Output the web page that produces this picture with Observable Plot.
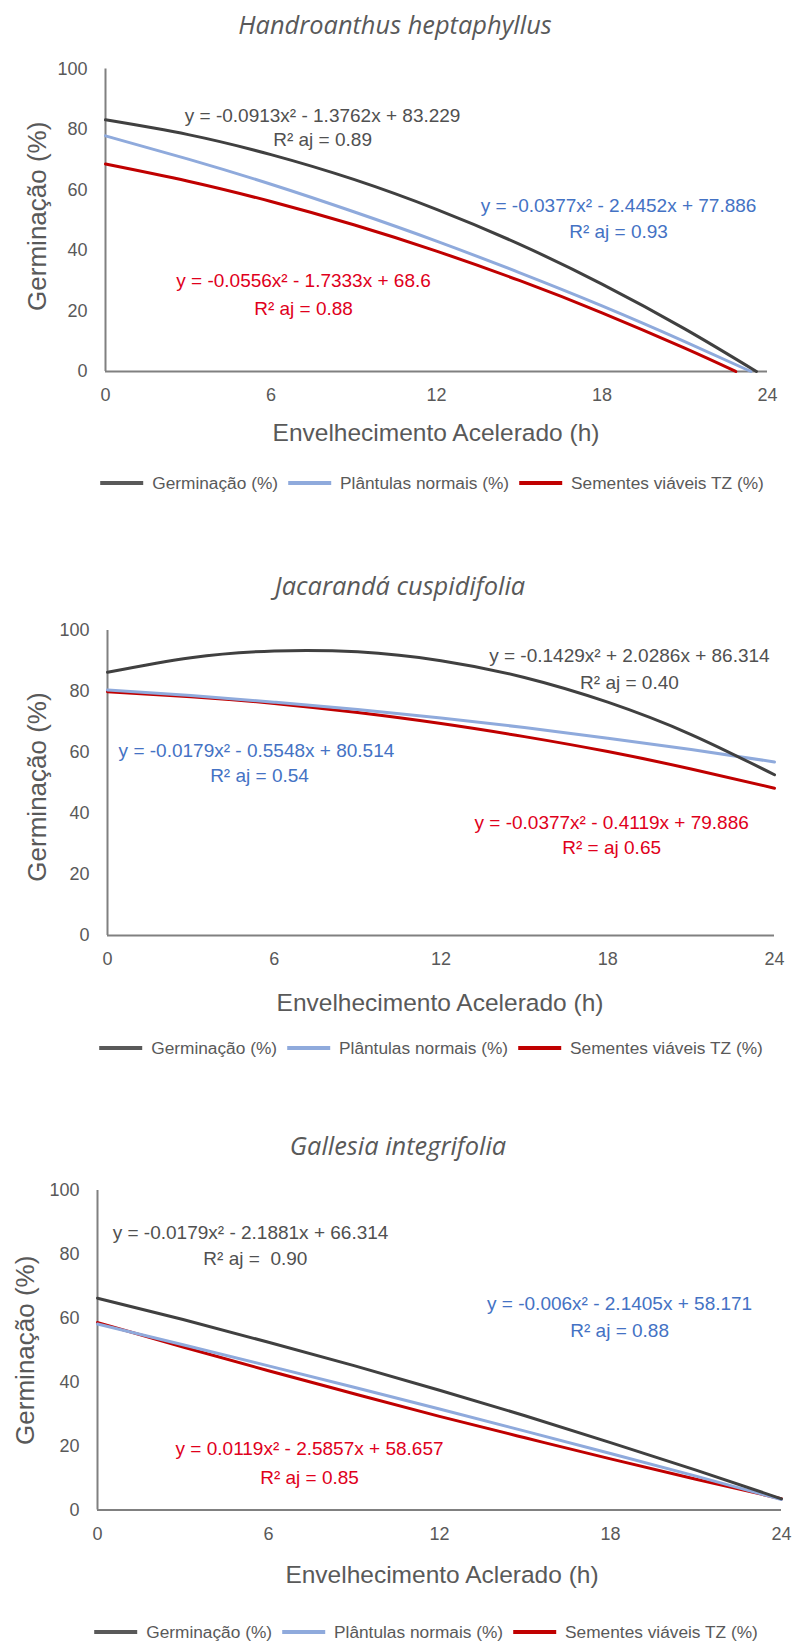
<!DOCTYPE html>
<html><head><meta charset="utf-8">
<script src="https://cdn.jsdelivr.net/npm/d3@7"></script>
<script src="https://cdn.jsdelivr.net/npm/@observablehq/plot@0.6"></script>
<style>
body{margin:0;background:#fff;}
#root{position:relative;width:793px;height:1643px;overflow:hidden;font-family:"Liberation Sans",Arial,sans-serif;color:#595959;}
.abs{position:absolute;white-space:nowrap;}
.title{font-family:"Open Sans",sans-serif;font-style:italic;font-size:25.4px;line-height:30px;transform:translateX(-50%);}
.xlab{font-size:24.5px;line-height:30px;transform:translateX(-50%);}
.legend{display:flex;align-items:center;font-size:17.3px;line-height:24px;transform:translateX(-50%);}
.sw{display:inline-block;width:43px;height:4px;margin-right:9px;}
.item{display:flex;align-items:center;margin-right:10px;}
.item:last-child{margin-right:0;}
svg{position:absolute;left:0;}
</style></head>
<body><div id="root"></div>
<script>
// ---- data ----
const seriesNames = ["Germinação (%)", "Plântulas normais (%)", "Sementes viáveis TZ (%)"];
const titles = ["Handroanthus heptaphyllus", "Jacarandá cuspidifolia", "Gallesia integrifolia"];
const xLabels = ["Envelhecimento Acelerado (h)", "Envelhecimento Acelerado (h)", "Envelhecimento Aclerado (h)"];
const yLabel = "Germinação (%)";
const xTicks = [0, 6, 12, 18, 24];
const yTicks = [0, 20, 40, 60, 80, 100];
const hours = [0, 3, 6, 9, 12, 15, 18, 21, 24];

// Panel 1 - Handroanthus heptaphyllus
const p1GermHours = [0, 3, 6, 9, 12, 15, 18, 21, 23.6];
const p1Germ = [83.2, 78.3, 71.7, 63.5, 53.6, 42.1, 28.9, 14.1, 0];
const p1PlantHours = [0, 3, 6, 9, 12, 15, 18, 21, 23.4];
const p1Plant = [77.9, 70.2, 61.9, 52.8, 43.1, 32.7, 21.7, 9.9, 0];
const p1SemHours = [0, 3, 6, 9, 12, 15, 18, 21, 22.85];
const p1Sem = [68.6, 62.9, 56.2, 48.5, 39.8, 30.1, 19.4, 7.7, 0];
const p1Eq = [
  ["y = -0.0913x² - 1.3762x + 83.229", "R² aj = 0.89"],
  ["y = -0.0377x² - 2.4452x + 77.886", "R² aj = 0.93"],
  ["y = -0.0556x² - 1.7333x + 68.6", "R² aj = 0.88"]
];

// Panel 2 - Jacarandá cuspidifolia
const p2Germ = [86.3, 91.1, 93.3, 93.0, 90.1, 84.6, 76.5, 65.9, 52.7];
const p2Plant = [80.5, 78.7, 76.5, 74.1, 71.3, 68.2, 64.7, 61.0, 56.9];
const p2Sem = [79.9, 78.3, 76.1, 73.1, 69.5, 65.2, 60.3, 54.6, 48.3];
const p2Eq = [
  ["y = -0.1429x² + 2.0286x + 86.314", "R² aj = 0.40"],
  ["y = -0.0179x² - 0.5548x + 80.514", "R² aj = 0.54"],
  ["y = -0.0377x² - 0.4119x + 79.886", "R² = aj 0.65"]
];

// Panel 3 - Gallesia integrifolia
const p3Germ = [66.3, 59.6, 52.5, 45.2, 37.5, 29.5, 21.1, 12.5, 3.5];
const p3Plant = [58.2, 51.7, 45.1, 38.4, 31.6, 24.7, 17.7, 10.6, 3.3];
const p3Sem = [58.7, 51.0, 43.6, 36.4, 29.3, 22.6, 16.0, 9.6, 3.5];
const p3Eq = [
  ["y = -0.0179x² - 2.1881x + 66.314", "R² aj =  0.90"],
  ["y = -0.006x² - 2.1405x + 58.171", "R² aj = 0.88"],
  ["y = 0.0119x² - 2.5857x + 58.657", "R² aj = 0.85"]
];

// ---- styles / layout ----
const lineColors = ["#404040", "#8FAADC", "#C00000"];
const eqColors = ["#505050", "#4472C4", "#E0001B"];

const panels = [
  {
    top: 45, x0: 105, x24: 767, y100: 68.5, y0: 371, ylabDx: -68, ylabDy: -4,
    series: [[p1GermHours, p1Germ], [p1PlantHours, p1Plant], [p1SemHours, p1Sem]],
    eq: p1Eq,
    eqPos: [[[7.87, 84.6], [7.87, 76.4]], [[18.6, 54.9], [18.6, 46.3]], [[7.18, 30.1], [7.18, 20.8]]],
    title: {x: 395, y: 24}, xlab: {x: 436, y: 433}, legend: {x: 432, y: 483}
  },
  {
    top: 610, x0: 107, x24: 774, y100: 630, y0: 935, ylabDx: -70, ylabDy: 4,
    series: [[hours, p2Germ], [hours, p2Plant], [hours, p2Sem]],
    eq: p2Eq,
    eqPos: [[[18.78, 91.8], [18.78, 82.95]], [[5.36, 60.66], [5.47, 52.46]], [[18.14, 37.05], [18.14, 28.85]]],
    title: {x: 400, y: 585}, xlab: {x: 440, y: 1003}, legend: {x: 431, y: 1048}
  },
  {
    top: 1170, x0: 97, x24: 781, y100: 1190, y0: 1509.5, ylabDx: -72, ylabDy: 0,
    series: [[hours, p3Germ], [hours, p3Plant], [hours, p3Sem]],
    eq: p3Eq,
    eqPos: [[[5.37, 86.85], [5.54, 78.7]], [[18.32, 64.6], [18.32, 56.2]], [[7.44, 19.25], [7.44, 10.2]]],
    title: {x: 398, y: 1145}, xlab: {x: 442, y: 1575}, legend: {x: 426, y: 1632}
  }
];

const root = document.getElementById("root");

function addDiv(cls, text, x, y, h) {
  const d = document.createElement("div");
  d.className = "abs " + cls;
  d.textContent = text;
  d.style.left = x + "px";
  d.style.top = (y - h / 2) + "px";
  root.appendChild(d);
  return d;
}

panels.forEach((p, pi) => {
  const bottomMargin = 45;
  const h = (p.y0 - p.top) + bottomMargin;
  const marks = [
    Plot.axisX({ticks: xTicks, tickSize: 0, tickPadding: 17, label: null, fontSize: 18, fill: "#595959"}),
    Plot.axisY({ticks: yTicks, tickSize: 0, tickPadding: 18, label: null, fontSize: 18, fill: "#595959"}),
    Plot.ruleY([0], {stroke: "#808080", strokeWidth: 2}),
    Plot.ruleX([0], {stroke: "#808080", strokeWidth: 2})
  ];
  [2, 1, 0].forEach(si => {
    const [xs, ys] = p.series[si];
    const rows = xs.map((x, j) => ({series: seriesNames[si], x, y: ys[j]}));
    marks.push(Plot.line(rows, {x: "x", y: "y", stroke: lineColors[si], strokeWidth: 3, curve: "natural"}));
  });
  p.eq.forEach((lines, si) => {
    lines.forEach((t, li) => {
      const [ex, ey] = p.eqPos[si][li];
      marks.push(Plot.text([{x: ex, y: ey, t}], {x: "x", y: "y", text: "t", fill: eqColors[si], fontSize: 19, style: "white-space:pre"}));
    });
  });
  marks.push(Plot.text([yLabel], {frameAnchor: "left", textAnchor: "middle", lineAnchor: "middle", rotate: -90, dx: p.ylabDx, dy: p.ylabDy, fontSize: 26, fill: "#595959"}));

  const svg = Plot.plot({
    width: 793, height: h,
    marginLeft: p.x0, marginRight: 793 - p.x24,
    marginTop: p.y100 - p.top, marginBottom: bottomMargin,
    style: {fontFamily: "'Liberation Sans', Arial, sans-serif", fontSize: "18px", color: "#595959", background: "transparent", overflow: "visible"},
    x: {domain: [0, 24]},
    y: {domain: [0, 100]},
    marks
  });
  svg.style.top = p.top + "px";
  root.appendChild(svg);

  addDiv("title", titles[pi], p.title.x, p.title.y, 30);
  addDiv("xlab", xLabels[pi], p.xlab.x, p.xlab.y, 30);

  const lg = document.createElement("div");
  lg.className = "abs legend";
  lg.style.left = p.legend.x + "px";
  lg.style.top = (p.legend.y - 12) + "px";
  seriesNames.forEach((n, si) => {
    const it = document.createElement("div");
    it.className = "item";
    const sw = document.createElement("span");
    sw.className = "sw";
    sw.style.background = si === 0 ? "#595959" : lineColors[si];
    const tx = document.createElement("span");
    tx.textContent = n;
    it.appendChild(sw); it.appendChild(tx);
    lg.appendChild(it);
  });
  root.appendChild(lg);
});
</script>
</body></html>
